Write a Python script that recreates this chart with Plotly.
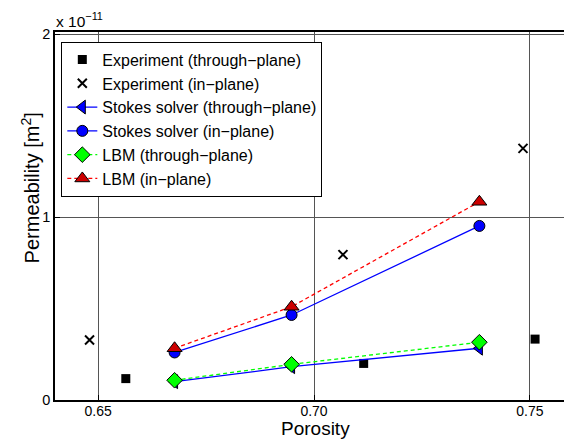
import plotly.graph_objects as go

# Data (permeability in units of 1e-11 m^2)
exp_tp_x = [0.6564, 0.7115, 0.7512]
exp_tp_y = [0.117, 0.200, 0.333]
exp_ip_x = [0.648, 0.7067, 0.7484]
exp_ip_y = [0.328, 0.795, 1.376]
sim_x = [0.6677, 0.6948, 0.7383]
stokes_tp_y = [0.100, 0.182, 0.283]
stokes_ip_y = [0.260, 0.465, 0.952]
lbm_tp_y = [0.108, 0.195, 0.316]
lbm_ip_y = [0.283, 0.510, 1.084]

FONT = "Liberation Sans, Arial, sans-serif"
OUT = dict(color="black", width=1)

fig = go.Figure()
fig.add_trace(go.Scatter(x=exp_tp_x, y=exp_tp_y, mode="markers", name="Experiment (through−plane)",
                         marker=dict(symbol="square", size=9, color="black", line=dict(width=0))))
fig.add_trace(go.Scatter(x=exp_ip_x, y=exp_ip_y, mode="markers", name="Experiment (in−plane)",
                         marker=dict(symbol="x-thin", size=9, color="black", line=dict(color="black", width=2))))
fig.add_trace(go.Scatter(x=sim_x, y=stokes_tp_y, mode="lines+markers", name="Stokes solver (through−plane)",
                         line=dict(color="#0000ff", width=1.3),
                         marker=dict(symbol="triangle-left", size=12, color="#0000ff", line=OUT)))
fig.add_trace(go.Scatter(x=sim_x, y=stokes_ip_y, mode="lines+markers", name="Stokes solver (in−plane)",
                         line=dict(color="#0000ff", width=1.3),
                         marker=dict(symbol="circle", size=11, color="#0000ff", line=OUT)))
fig.add_trace(go.Scatter(x=sim_x, y=lbm_tp_y, mode="lines+markers", name="LBM (through−plane)",
                         line=dict(color="#00ff00", width=1.3, dash="4px,3px"),
                         marker=dict(symbol="diamond", size=12, color="#00ff00", line=OUT)))
fig.add_trace(go.Scatter(x=sim_x, y=lbm_ip_y, mode="lines+markers", name="LBM (in−plane)",
                         line=dict(color="#ff0000", width=1.3, dash="4px,3px"),
                         marker=dict(symbol="triangle-up", size=13, color="#cc0000", line=OUT)))

fig.update_layout(
    width=564, height=441,
    margin=dict(l=55, r=0, t=32, b=41),
    paper_bgcolor="white", plot_bgcolor="white",
    font=dict(family=FONT, size=14, color="black"),
    showlegend=True,
    legend=dict(x=0.0124, y=0.974, xanchor="left", yanchor="top",
                bgcolor="white", bordercolor="black", borderwidth=1,
                font=dict(size=16), itemwidth=30, tracegroupgap=0),
    annotations=[
        dict(text="x 10<sup>−11</sup>", xref="paper", yref="paper", x=-0.001, y=1.0,
             xanchor="left", yanchor="bottom", showarrow=False, font=dict(size=15.5)),
        dict(text="Porosity", xref="x", yref="paper", x=0.7003, y=-0.1115,
             xanchor="center", yanchor="bottom", showarrow=False, font=dict(size=19)),
        dict(text="Permeability [m<sup>2</sup>]", xref="paper", yref="paper", x=-0.048, y=0.5766,
             xanchor="center", yanchor="middle", textangle=-90, showarrow=False, font=dict(size=20)),
    ],
)
fig.update_xaxes(range=[0.64, 0.7579], tickvals=[0.65, 0.70, 0.75], ticktext=["0.65", "0.70", "0.75"],
                 showgrid=True, gridcolor="#555", gridwidth=1, zeroline=False,
                 showline=True, linecolor="black", linewidth=1.5, mirror=True,
                 ticks="inside", ticklen=5, tickcolor="black", tickfont=dict(size=14),
                 ticklabelstandoff=-3)
fig.update_yaxes(range=[0, 2.0126], tickvals=[0, 1, 2], ticktext=["0", "1", "2"],
                 showgrid=True, gridcolor="#555", gridwidth=1, zeroline=False,
                 showline=True, linecolor="black", linewidth=1.5,
                 ticks="inside", ticklen=5, tickcolor="black", tickfont=dict(size=14.5))

fig.write_html("out.html")
